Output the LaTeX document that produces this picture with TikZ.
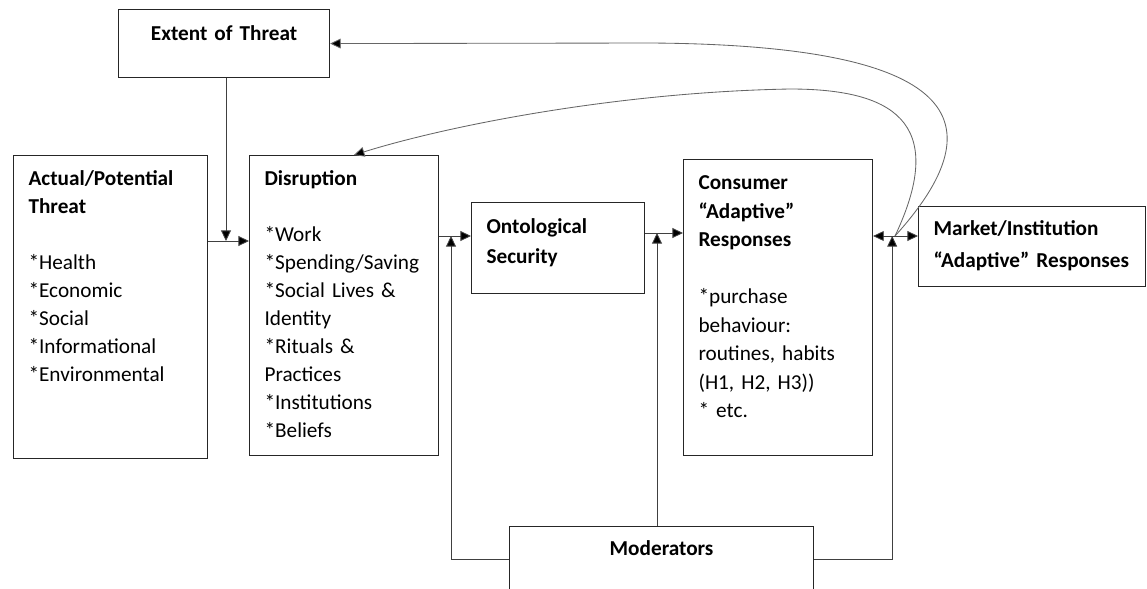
\documentclass[tikz,border=0pt]{standalone}
\usepackage{fontspec}
\setmainfont{Carlito}
\usetikzlibrary{arrows.meta}
\newlength\pxu
\setlength\pxu{0.025cm}
\begin{document}
\begin{tikzpicture}[x=0.025cm, y=-0.025cm,
  box/.style={draw=black!85, line width=0.8pt, anchor=north west, align=left,
    inner xsep=15\pxu, inner ysep=0pt, font=\fontsize{15.1}{19.9}\selectfont},
  arr/.style={line width=0.6pt, draw=black!75, -{Triangle[length=7.5pt,width=7pt,fill=black]}},
  loop/.style={arr, draw=black!60}]
\useasboundingbox (0,0) rectangle (1147,588);
\node[box, align=center, text width=181\pxu, text height=31\pxu, text depth=37\pxu] (ext) at (118,9) {\textbf{Extent of Threat}};
\node[box, text width=164\pxu, text height=30\pxu, text depth=273\pxu] (threat) at (13,155)
  {\textbf{Actual/Potential}\\ \textbf{Threat}\\[19.9pt] {*}Health\\ {*}Economic\\ {*}Social\\ {*}Informational\\ {*}Environmental};
\node[box, text width=159\pxu, text height=30\pxu, text depth=270\pxu] (disr) at (249,155)
  {\textbf{Disruption}\\[19.9pt] {*}Work\\ {*}Spending/Saving\\ {*}Social Lives \&\\ Identity\\ {*}Rituals \&\\ Practices\\ {*}Institutions\\ {*}Beliefs};
\node[box, font=\fontsize{15.1}{21.3}\selectfont, text width=143\pxu, text height=31\pxu, text depth=60\pxu] (onto) at (471,202)
  {\textbf{Ontological}\\ \textbf{Security}};
\node[box, font=\fontsize{15.1}{20.3}\selectfont, text width=159\pxu, text height=30\pxu, text depth=266\pxu] (cons) at (683,159)
  {\textbf{Consumer}\\ \textbf{“Adaptive”}\\ \textbf{Responses}\\[20.3pt] {*}purchase\\ behaviour:\\ routines, habits\\ (H1, H2, H3))\\ {*} etc.};
\node[box, font=\fontsize{15.1}{22.8}\selectfont, text width=197\pxu, text height=29\pxu, text depth=51\pxu] (mkt) at (918,206)
  {\textbf{Market/Institution}\\ \textbf{“Adaptive” Responses}};
\node[box, align=center, text width=274\pxu, text height=29\pxu, text depth=37\pxu] (mod) at (509,526) {\textbf{Moderators}};

\coordinate (jA) at (226,241);
\coordinate (jB) at (451,236);
\coordinate (jC) at (657,233);
\coordinate (jD) at (895,236);

\draw[arr] (threat.east |- jA) -- (disr.west |- jA);
\draw[arr] (ext.south -| jA) -- (jA);
\draw[arr] (disr.east |- jB) -- (onto.west |- jB);
\draw[arr] (mod.west) -| (jB);
\draw[arr] (onto.east |- jC) -- (cons.west |- jC);
\draw[arr] (mod.north -| jC) -- (jC);
\draw[arr] (jD) -- (cons.east |- jD);
\draw[arr] (jD) -- (mkt.west |- jD);
\draw[arr] (mod.east) -| ([xshift=-2pt]jD);
\draw[loop] (jD) .. controls (1000,120) and (960,45) .. (650,43) -- (ext.east);
\draw[loop] (jD) .. controls (950,120) and (890,89) .. (790,89) .. controls (620,92) and (450,125) .. ([xshift=7pt]disr.north);
\end{tikzpicture}
\end{document}
